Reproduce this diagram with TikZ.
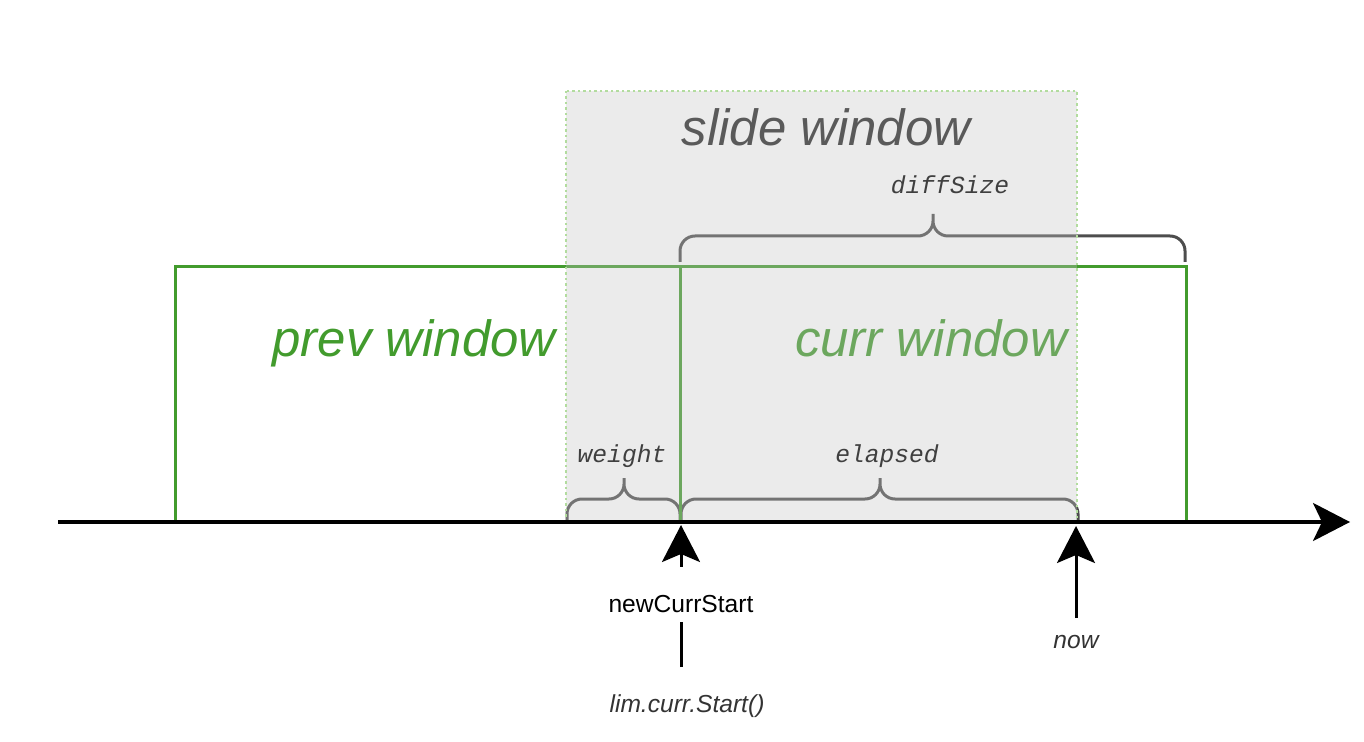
\documentclass[tikz,border=0pt]{standalone}
\usepackage{fontspec}
\setmainfont{Liberation Sans}
\setmonofont{Liberation Mono}
\usepackage{tikz}
\usetikzlibrary{arrows.meta, positioning, calc}
\definecolor{wingreen}{RGB}{66,155,45}
\definecolor{slidegray}{RGB}{194,194,194}
\definecolor{slideedge}{RGB}{178,220,158}
\definecolor{slidetext}{RGB}{90,90,90}
\definecolor{bracegray}{RGB}{77,77,77}
\definecolor{labeltext}{RGB}{51,51,51}
\tikzset{
  win/.style={draw=wingreen, line width=0.06cm},
  wintitle/.style={font=\fontsize{29}{35}\selectfont\itshape, anchor=base},
  bracket/.style={draw=bracegray, line width=0.06cm, rounded corners=0.3cm},
  codelbl/.style={font=\fontsize{14}{17}\selectfont\ttfamily\itshape, anchor=base},
  timeline/.style={line width=0.07cm, -{Stealth[length=0.74cm, width=0.76cm, inset=0.18cm]}},
  marker/.style={line width=0.06cm, -{Stealth[length=0.74cm, width=0.76cm, inset=0.16cm]}},
  tick/.style={font=\fontsize{14}{17}\selectfont, anchor=base}
}

\begin{document}
\begin{tikzpicture}[x=0.02cm, y=-0.02cm]
  \useasboundingbox (0,0) rectangle (1364,742);

  % key points on the time axis
  \coordinate (axstart) at (58,522);
  \coordinate (axend) at (1350,522);
  \coordinate (prevl) at (175,522);
  \coordinate (split) at (680,522);
  \coordinate (currr) at (1186,522);

  % braces
  \coordinate (dl) at (680,262);  \coordinate (dr) at (1185,262);
  \coordinate (dm) at (933,236);  \coordinate (dt) at (933,214);
  \coordinate (wl) at (567,520);  \coordinate (wr) at (680,520);
  \coordinate (wm) at (624,499);  \coordinate (wt) at (624,478);
  \coordinate (el) at (681,520);  \coordinate (er) at (1078,520);
  \coordinate (em) at (880,499);  \coordinate (et) at (880,478);
  \draw[bracket] (dl) |- (dm) -- (dt) (dr) |- (dm) -- (dt);
  \draw[bracket] (wl) |- (wm) -- (wt) (wr) |- (wm) -- (wt);
  \draw[bracket] (el) |- (em) -- (et) (er) |- (em) -- (et);

  % windows
  \draw[win] (prevl) -- (prevl|-0,267) -- (split|-0,267) -- (split);
  \draw[win] (split) -- (split|-0,267) -- (currr|-0,267) -- (currr);
  \node[wintitle, text=wingreen] (prevtxt) at (414,357) {prev window};
  \node[wintitle, text=wingreen] (currtxt) at (931,357) {curr window};

  \node[codelbl] (diffsz) at (950,194) {diffSize};
  \node[codelbl] (wgt) at (622,462) {weight};
  \node[codelbl] (elps) at (887,462) {elapsed};

  % slide window
  \fill[slidegray, fill opacity=0.33] (566,91) rectangle (1077,522);
  \draw[slideedge, line width=0.05cm, dash pattern=on 0.05cm off 0.06cm]
    (566,91) rectangle (1077,522);
  \node[wintitle, text=slidetext] (slidetxt) at (826,146) {slide window};

  % time axis
  \draw[timeline] (axstart) -- (axend);

  % markers
  \coordinate (ncsfoot) at (681,667);
  \coordinate (ncstip) at (681,525);
  \coordinate (nowfoot) at (1076,618);
  \coordinate (nowtip) at (1076,526);
  \draw[marker] (ncsfoot) -- (ncstip);
  \draw[marker] (nowfoot) -- (nowtip);
  \node[tick, fill=white, text height=0.7cm, text depth=0pt, inner ysep=0.2cm]
    (ncs) at (681,612) {newCurrStart};
  \node[tick, font=\fontsize{14}{17}\selectfont\itshape, text=labeltext]
    (nowtxt) at (1076,648) {now};
  \node[tick, font=\fontsize{14}{17}\selectfont\itshape, text=labeltext]
    (limstart) at (687,712) {lim.curr.Start()};
\end{tikzpicture}
\end{document}
